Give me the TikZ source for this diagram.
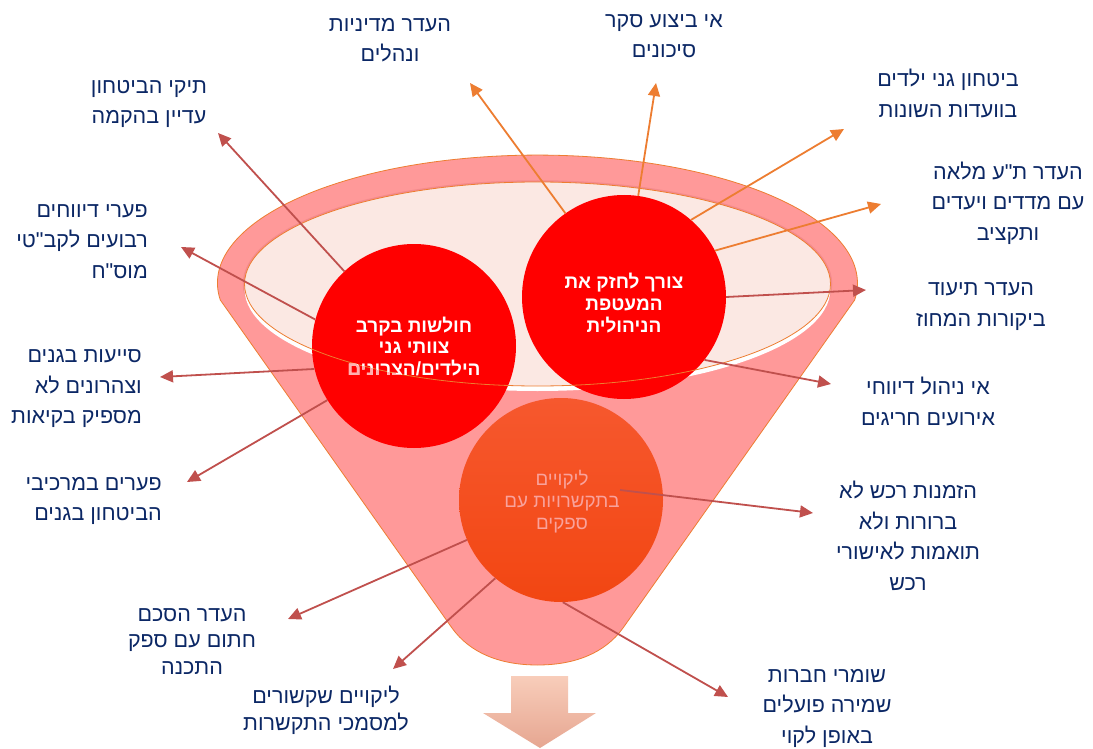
\documentclass[tikz,border=0pt]{standalone}
\usepackage{fontspec}
\newfontfamily\hebfont[Script=Hebrew]{Liberation Sans}
\TeXXeTstate=1
\usetikzlibrary{arrows.meta}
\newcommand\hb[1]{\beginR #1\endR}

\definecolor{funnelfill}{HTML}{FF9999}
\definecolor{funnelline}{HTML}{ED7D31}
\definecolor{mouth}{HTML}{FBE8E3}
\definecolor{mouthring}{HTML}{F48A8C}
\definecolor{hot}{HTML}{FF0000}
\definecolor{emberA}{HTML}{F6582E}
\definecolor{emberB}{HTML}{F24612}
\definecolor{navy}{HTML}{0B2765}
\definecolor{redlink}{HTML}{C0504D}
\definecolor{orangelink}{HTML}{ED7D31}
\definecolor{palepink}{HTML}{F9A29C}
\definecolor{fadedtext}{HTML}{FFB0B0}
\definecolor{dropA}{HTML}{F8CDBA}
\definecolor{dropB}{HTML}{E6A691}

\begin{document}
\begin{tikzpicture}[x=1pt,y=-1pt,
  lbl/.style={font=\fontsize{21.5}{30.5}\hebfont, text=navy, inner sep=0pt, align=center, yshift=-2pt},
  lbltight/.style={lbl, font=\fontsize{21.5}{26.7}\hebfont},
  ball/.style={circle, minimum size=204pt, inner sep=0pt},
  balltext/.style={font=\fontsize{19}{21.7}\hebfont\bfseries, text=white, align=center, inner sep=0pt},
  softtext/.style={font=\fontsize{18.8}{21.7}\hebfont, text=palepink, align=center, inner sep=0pt},
  redarrow/.style={draw=redlink, line width=1.8pt, -{Triangle[length=13pt,width=12pt]}},
  orangearrow/.style={draw=orangelink, line width=1.8pt, -{Triangle[length=13pt,width=12pt]}},
]
\useasboundingbox (0,0) rectangle (1093,749);
\fill[white] (0,0) rectangle (1093,749);

% funnel body with its rim
\path[fill=funnelfill, draw=funnelline, line width=0.8pt]
  (220.3,300) arc[start angle=172.4, end angle=367.6, x radius=320, y radius=128]
  -- (623,628) .. controls (605,653) and (575,665) .. (537.5,665)
  .. controls (500,665) and (470,653) .. (452,628) -- cycle;

% mouth of the funnel
\draw[mouthring, line width=3.5pt] (537.5,284) ellipse[x radius=293, y radius=102];
\fill[white] (537.5,289) ellipse[x radius=293, y radius=102];
\fill[mouth] (537.5,284) ellipse[x radius=293, y radius=102];

% the three balls
\node[ball, fill=hot] (cl) at (414,346) {};
\node[ball, fill=hot] (cr) at (624,297) {};
\node[ball, top color=emberA, bottom color=emberB] (cb) at (561,500) {};

% rim line of the mouth, over the balls
\draw[funnelline, line width=0.8pt] (537.5,284) ellipse[x radius=293, y radius=102];

% ball texts
\node[balltext] (tl) at (414,346.5) {\hb{חולשות בקרב}\\\hb{צוותי גני}\\\hb{הילדים/הצרונים}};
\begin{scope}
  \clip (830.5,284) arc[start angle=0, end angle=180, x radius=293, y radius=102]
    -- (244.5,760) -- (830.5,760) -- cycle;
  \node[balltext, text=fadedtext] (tlfaded) at (414,346.5) {\hb{חולשות בקרב}\\\hb{צוותי גני}\\\hb{הילדים/הצרונים}};
\end{scope}
\node[balltext] (tr) at (624,303) {\hb{צורך לחזק את}\\\hb{המעטפת}\\\hb{הניהולית}};
\node[softtext] (tb) at (562,501.5) {\hb{ליקויים}\\\hb{בתקשרויות עם}\\\hb{ספקים}};

% arrow tips
\coordinate (ta) at (218,133);
\coordinate (tbb) at (181,247);
\coordinate (tc) at (160,377);
\coordinate (td) at (187,482);
\coordinate (te) at (470,83);
\coordinate (tf) at (656,83);
\coordinate (tg) at (844,129);
\coordinate (th) at (881,204);
\coordinate (ti) at (866,290);
\coordinate (tj) at (831,384);
\coordinate (ks) at (620,490);
\coordinate (tk) at (813,513);
\coordinate (tlx) at (288,619);
\coordinate (tm) at (393,669);
\coordinate (tn) at (728,697);

% connectors
\draw[redarrow] (cl.133) -- (ta);
\draw[redarrow] (cl.165) -- (tbb);
\draw[redarrow] (cl.193) -- (tc);
\draw[redarrow] (cl.212) -- (td);
\draw[orangearrow] (cr.125) -- (te);
\draw[orangearrow] (cr.82) -- (tf);
\draw[orangearrow] (cr.49) -- (tg);
\draw[orangearrow] (cr.27) -- (th);
\draw[redarrow] (cr.0) -- (ti);
\draw[redarrow] (cr.322) -- (tj);
\draw[redarrow] (ks) -- (tk);
\draw[redarrow] (cb.203) -- (tlx);
\draw[redarrow] (cb.230) -- (tm);
\draw[redarrow] (cb.271) -- (tn);

% labels
\node[lbl] (n1) at (390,38) {\hb{העדר מדיניות}\\\hb{ונהלים}};
\node[lbl] (n2) at (664,34) {\hb{אי ביצוע סקר}\\\hb{סיכונים}};
\node[lbl] (n3) at (948,91.5) {\hb{ביטחון גני ילדים}\\\hb{בוועדות השונות}};
\node[lbl] (n4) at (1008,201) {\hb{העדר ת"ע מלאה}\\\hb{עם מדדים ויעדים}\\\hb{ותקציב}};
\node[lbl] (n5) at (981,304.5) {\hb{העדר תיעוד}\\\hb{ביקורות המחוז}};
\node[lbl] (n6) at (928,399.5) {\hb{אי ניהול דיווחי}\\\hb{אירועים חריגים}};
\node[lbl] (n7) at (908,534) {\hb{הזמנות רכש לא}\\\hb{ברורות ולא}\\\hb{תואמות לאישורי}\\\hb{רכש}};
\node[lbl] (n8) at (827,706) {\hb{שומרי חברות}\\\hb{שמירה פועלים}\\\hb{באופן לקוי}};
\node[lbltight] (n9) at (326,708.5) {\hb{ליקויים שקשורים}\\\hb{למסמכי התקשרות}};
\node[lbltight] (n10) at (192,639.5) {\hb{העדר הסכם}\\\hb{חתום עם ספק}\\\hb{התכנה}};
\node[lbl, align=right, anchor=east] (n11) at (162,499) {\hb{פערים במרכיבי}\\\hb{הביטחון בגנים}};
\node[lbl, align=right, anchor=east] (n12) at (142,387) {\hb{סייעות בגנים}\\\hb{וצהרונים לא}\\\hb{מספיק בקיאות}};
\node[lbl, align=right, anchor=east] (n13) at (148,239.5) {\hb{פערי דיווחים}\\\hb{רבועים לקב"טי}\\\hb{מוס"ח}};
\node[lbl] (n14) at (149,102) {\hb{תיקי הביטחון}\\\hb{עדיין בהקמה}};

% outflow arrow under the funnel
\shade[top color=dropA, bottom color=dropB]
  (511,676) -- (568,676) -- (568,713) -- (596,713) -- (540,748)
  -- (483,713) -- (511,713) -- cycle;
\end{tikzpicture}
\end{document}
